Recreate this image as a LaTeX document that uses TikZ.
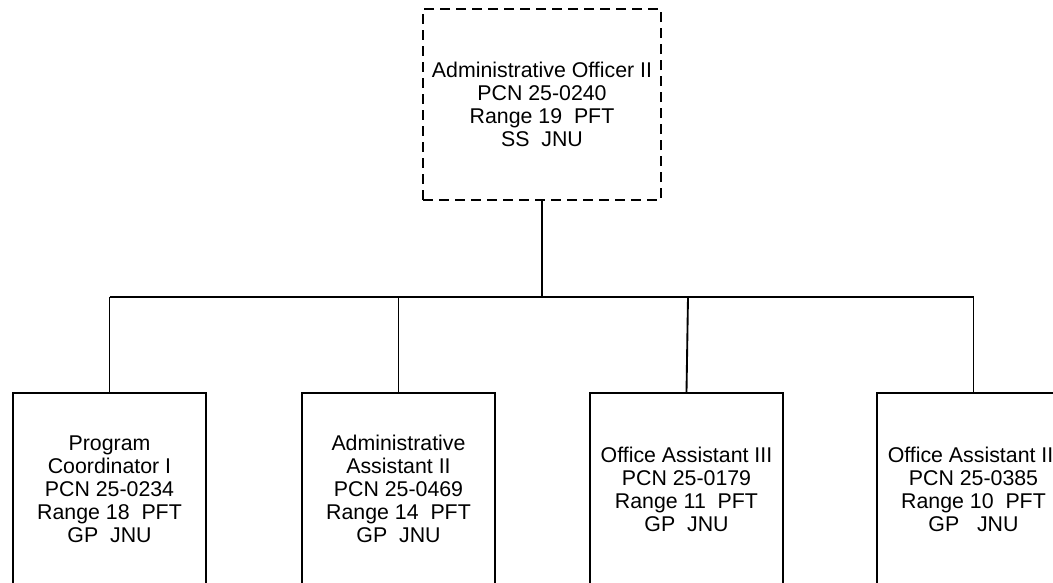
\documentclass[tikz,border=0pt]{standalone}
\usepackage{fontspec}
\setmainfont{Liberation Sans}
\begin{document}
\begin{tikzpicture}[x=0.75pt,y=-0.75pt,
  line width=1.4pt,
  txt/.style={font=\fontsize{16pt}{17.3pt}\selectfont, align=center, inner sep=0pt},
  topbox/.style={txt, draw, line width=1.4pt, dash pattern=on 7.5pt off 4.5pt, minimum width=178.5pt, minimum height=143.25pt},
  subbox/.style={txt, draw, line width=1.4pt, minimum width=144.75pt, minimum height=144pt},
  conn/.style={draw, line width=1.4pt}]
\useasboundingbox (0,0) rectangle (1053,582);
\clip (0,0) rectangle (1053,582);
\node[topbox] (top) at (542,104.5) {Administrative Officer II\\PCN 25-0240\\Range 19\ \ PFT\\SS\ \ JNU};
\node[subbox] (b1) at (109.5,489) {Program\\Coordinator I\\PCN 25-0234\\Range 18\ \ PFT\\GP\ \ JNU};
\node[subbox] (b2) at (398.5,489) {Administrative\\Assistant II\\PCN 25-0469\\Range 14\ \ PFT\\GP\ \ JNU};
\node[subbox] (b3) at (686.5,489) {Office Assistant III\\PCN 25-0179\\Range 11\ \ PFT\\GP\ \ JNU};
\node[subbox] (b4) at (973.5,489) {Office Assistant III\\PCN 25-0385\\Range 10\ \ PFT\\GP\ \ \ JNU};
\coordinate (j0) at (542,297);
\coordinate (j1) at (109.5,297);
\coordinate (j2) at (398.5,297);
\coordinate (j3) at (688,297);
\coordinate (j4) at (973.5,297);
\draw[conn] (top.south) -- (j0);
\draw[conn] (j1) -- (j4);
\draw[conn] (j1) -- (b1.north);
\draw[conn] (j2) -- (b2.north);
\draw[conn] (j3) -- (b3.north);
\draw[conn] (j4) -- (b4.north);
\end{tikzpicture}
\end{document}
